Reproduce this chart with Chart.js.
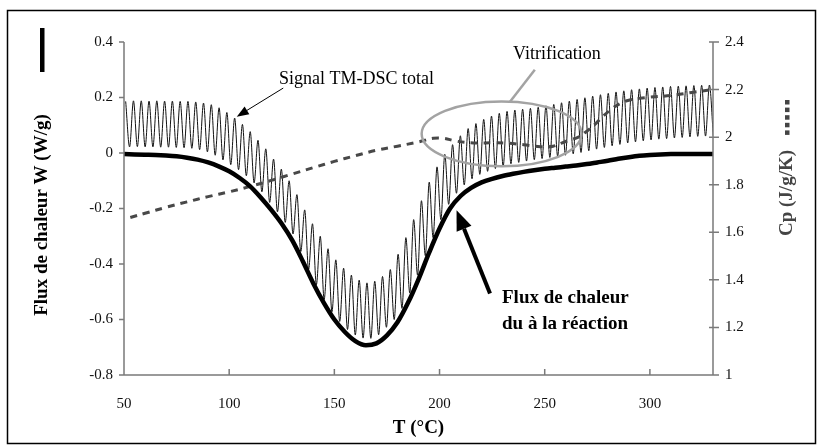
<!DOCTYPE html>
<html>
<head>
<meta charset="utf-8">
<style>
  html, body { margin: 0; padding: 0; background: #fff; }
  #wrap { width: 819px; height: 447px; }
</style>
</head>
<body>
<div id="wrap"><canvas id="dsc" width="819" height="447"></canvas></div>
<script src="https://cdn.jsdelivr.net/npm/chart.js@4.4.1/dist/chart.umd.min.js"></script>
<script>
// heat flow due to the reaction (W/g)
const reactionT = [50, 55, 60, 65, 70, 75, 80, 85, 90, 95, 100, 105, 110, 115, 120, 125, 130, 135, 140,
  145, 150, 155, 160, 165, 170, 175, 180, 185, 190, 195, 200, 205, 210, 215, 220, 225, 230, 235, 240,
  245, 250, 255, 260, 265, 270, 275, 280, 285, 290, 295, 300, 305, 310, 315, 320, 325, 330];
const reactionW = [-0.004, -0.005, -0.006, -0.007, -0.009, -0.012, -0.017, -0.024, -0.034, -0.048, -0.066,
  -0.09, -0.12, -0.16, -0.205, -0.255, -0.315, -0.39, -0.47, -0.54, -0.6, -0.645, -0.678, -0.693,
  -0.686, -0.657, -0.61, -0.54, -0.455, -0.36, -0.272, -0.2, -0.155, -0.126, -0.106, -0.093, -0.083,
  -0.075, -0.068, -0.062, -0.057, -0.053, -0.049, -0.045, -0.04, -0.034, -0.028, -0.021, -0.015,
  -0.01, -0.007, -0.005, -0.004, -0.004, -0.004, -0.004, -0.004];

// reversing heat capacity (J/g/K), right axis
const cpT = [53, 60, 70, 80, 90, 100, 110, 120, 130, 140, 150, 160, 170, 180, 190, 197, 202, 207, 212,
  218, 225, 232, 240, 248, 254, 258, 262, 266, 270, 274, 278, 282, 286, 290, 295, 300, 310, 320, 330];
const cpValues = [1.662, 1.68, 1.705, 1.728, 1.75, 1.77, 1.793, 1.818, 1.845, 1.872, 1.898, 1.922, 1.945,
  1.962, 1.98, 1.995, 1.995, 1.985, 1.978, 1.975, 1.976, 1.975, 1.968, 1.96, 1.962, 1.975, 1.988, 2.0,
  2.025, 2.055, 2.09, 2.12, 2.142, 2.155, 2.163, 2.168, 2.175, 2.188, 2.2];

// total modulated signal: one max and one min per modulation cycle
const tmStart = 50.8;
const tmPeriod = 3.7;
const tmPeaks = [0.186, 0.188, 0.188, 0.187, 0.188, 0.187, 0.187, 0.186, 0.186, 0.184,
  0.18, 0.174, 0.163, 0.146, 0.126, 0.103, 0.077, 0.046, 0.015, -0.022,
  -0.058, -0.1, -0.15, -0.205, -0.255, -0.3, -0.345, -0.385, -0.415, -0.44,
  -0.458, -0.468, -0.462, -0.445, -0.42, -0.365, -0.305, -0.24, -0.172, -0.105,
  -0.05, -0.005, 0.03, 0.062, 0.088, 0.106, 0.121, 0.133, 0.143, 0.15,
  0.155, 0.158, 0.161, 0.165, 0.17, 0.175, 0.181, 0.187, 0.193, 0.199,
  0.205, 0.21, 0.215, 0.22, 0.224, 0.228, 0.231, 0.234, 0.236, 0.238,
  0.24, 0.241, 0.242, 0.243, 0.244, 0.245];
const tmTroughs = [0.022, 0.023, 0.022, 0.022, 0.021, 0.021, 0.02, 0.019, 0.017, 0.012,
  0.004, -0.008, -0.025, -0.042, -0.06, -0.082, -0.108, -0.14, -0.178, -0.212,
  -0.25, -0.292, -0.355, -0.42, -0.475, -0.528, -0.572, -0.607, -0.636, -0.656,
  -0.667, -0.668, -0.655, -0.628, -0.6, -0.56, -0.505, -0.44, -0.37, -0.305,
  -0.24, -0.185, -0.145, -0.115, -0.093, -0.077, -0.066, -0.056, -0.048, -0.039,
  -0.034, -0.029, -0.024, -0.02, -0.016, -0.012, -0.008, -0.003, 0.002, 0.008,
  0.014, 0.02, 0.026, 0.031, 0.036, 0.04, 0.044, 0.047, 0.05, 0.052,
  0.054, 0.056, 0.058, 0.06, 0.061, 0.062];

const xTicks = [50, 100, 150, 200, 250, 300];
const wTicks = [-0.8, -0.6, -0.4, -0.2, 0, 0.2, 0.4];
const cpTicks = [1, 1.2, 1.4, 1.6, 1.8, 2, 2.2, 2.4];

const SERIF = '"Liberation Serif", "DejaVu Serif", serif';
const AXIS_GREY = '#7a7a7a';

const tmData = [];
tmPeaks.forEach((peak, i) => {
  tmData.push({ x: tmStart + i * tmPeriod, y: peak });
  tmData.push({ x: tmStart + (i + 0.5) * tmPeriod, y: tmTroughs[i] });
});

function arrow(ctx, x1, y1, x2, y2, lw, headLen, headHalf) {
  const ang = Math.atan2(y2 - y1, x2 - x1);
  const bx = x2 - headLen * Math.cos(ang);
  const by = y2 - headLen * Math.sin(ang);
  ctx.lineWidth = lw;
  ctx.beginPath();
  ctx.moveTo(x1, y1);
  ctx.lineTo(bx, by);
  ctx.stroke();
  ctx.beginPath();
  ctx.moveTo(x2, y2);
  ctx.lineTo(bx + headHalf * Math.sin(ang), by - headHalf * Math.cos(ang));
  ctx.lineTo(bx - headHalf * Math.sin(ang), by + headHalf * Math.cos(ang));
  ctx.closePath();
  ctx.fill();
}

const decorations = {
  id: 'decorations',
  afterDraw(chart) {
    const { ctx, chartArea: a } = chart;
    const { x, y, y2 } = chart.scales;
    const px = (t) => x.getPixelForValue(t);
    const py = (v) => y.getPixelForValue(v);
    ctx.save();

    // frame
    ctx.strokeStyle = '#000';
    ctx.lineWidth = 1.5;
    ctx.strokeRect(7.5, 10.5, 808, 433);

    // axis lines and tick marks
    ctx.strokeStyle = AXIS_GREY;
    ctx.lineWidth = 1.5;
    ctx.beginPath();
    ctx.moveTo(a.left, a.top); ctx.lineTo(a.left, a.bottom); ctx.lineTo(a.right, a.bottom);
    ctx.moveTo(a.right, a.top); ctx.lineTo(a.right, a.bottom);
    wTicks.forEach(v => { ctx.moveTo(a.left - 5, py(v)); ctx.lineTo(a.left, py(v)); });
    cpTicks.forEach(v => { const yy = y2.getPixelForValue(v); ctx.moveTo(a.right - 4, yy); ctx.lineTo(a.right + 6, yy); });
    xTicks.forEach(t => { ctx.moveTo(px(t), a.bottom); ctx.lineTo(px(t), a.bottom - 6); });
    ctx.stroke();

    // vitrification ellipse and its pointer
    ctx.strokeStyle = '#a3a3a3';
    ctx.lineWidth = 2.5;
    const ecx = px(229.5), ecy = py(0.069);
    ctx.beginPath();
    ctx.ellipse(ecx, ecy, px(267.5) - ecx, ecy - py(0.186), 0, 0, Math.PI * 2);
    ctx.stroke();
    ctx.beginPath();
    ctx.moveTo(px(233.5), py(0.185));
    ctx.lineTo(px(245.3), py(0.3));
    ctx.stroke();

    // annotations
    ctx.fillStyle = '#000';
    ctx.strokeStyle = '#000';
    arrow(ctx, px(125.7), py(0.234), px(103.6), py(0.131), 1, 12, 4.5);
    arrow(ctx, px(224), py(-0.506), px(208.1), py(-0.206), 4, 20, 8);

    ctx.textBaseline = 'middle';
    ctx.textAlign = 'center';
    ctx.font = `18px ${SERIF}`;
    ctx.fillText('Signal TM-DSC total', px(160.5), py(0.264));
    ctx.fillText('Vitrification', px(255.8), py(0.354));
    ctx.textAlign = 'left';
    ctx.font = `bold 19px ${SERIF}`;
    ctx.fillText('Flux de chaleur', px(229.7), py(-0.523));
    ctx.fillText('du à la réaction', px(229.7), py(-0.617));

    // axis titles with their line keys
    ctx.textAlign = 'center';
    ctx.fillText('T (°C)', (a.left + a.right) / 2, 428);

    ctx.save();
    ctx.translate(42, 215);
    ctx.rotate(-Math.PI / 2);
    ctx.fillText('Flux de chaleur W (W/g)', 0, 0);
    ctx.restore();
    ctx.fillRect(40, 28, 4.5, 44);

    ctx.fillStyle = '#444';
    ctx.save();
    ctx.translate(787, 193);
    ctx.rotate(-Math.PI / 2);
    ctx.fillText('Cp (J/g/K)', 0, 0);
    ctx.restore();
    for (let k = 0; k < 5; k++) ctx.fillRect(785, 100 + k * 7.6, 4.5, 4.5);

    ctx.restore();
  }
};

new Chart(document.getElementById('dsc'), {
  type: 'line',
  data: {
    datasets: [
      {
        label: 'Flux de chaleur du à la réaction',
        data: reactionT.map((t, i) => ({ x: t, y: reactionW[i] })),
        borderColor: '#000',
        borderWidth: 4.5,
        cubicInterpolationMode: 'monotone',
        pointRadius: 0,
        yAxisID: 'y',
        order: 0,
      },
      {
        label: 'Cp',
        data: cpT.map((t, i) => ({ x: t, y: cpValues[i] })),
        borderColor: '#484848',
        borderWidth: 3,
        borderDash: [7, 6],
        tension: 0.4,
        pointRadius: 0,
        yAxisID: 'y2',
        order: 1,
      },
      {
        label: 'Signal TM-DSC total',
        data: tmData,
        borderColor: '#111',
        borderWidth: 1,
        cubicInterpolationMode: 'monotone',
        pointRadius: 0,
        yAxisID: 'y',
        order: 2,
      },
    ],
  },
  options: {
    responsive: false,
    devicePixelRatio: 1,
    animation: false,
    events: [],
    layout: { padding: { top: 42, right: 0, bottom: 0, left: 0 } },
    plugins: { legend: { display: false }, tooltip: { enabled: false } },
    scales: {
      x: {
        type: 'linear',
        min: 50,
        max: 330,
        afterFit: (s) => { s.height = 72; },
        afterBuildTicks: (s) => { s.ticks = xTicks.map(value => ({ value })); },
        grid: { display: false, drawTicks: false },
        border: { display: false },
        ticks: { color: '#111', padding: 20, maxRotation: 0, font: { family: SERIF, size: 15 } },
      },
      y: {
        position: 'left',
        min: -0.8,
        max: 0.4,
        afterFit: (s) => { s.width = 124; },
        afterBuildTicks: (s) => { s.ticks = wTicks.map(value => ({ value })); },
        grid: { display: false, drawTicks: false },
        border: { display: false },
        ticks: {
          color: '#111', padding: 11, font: { family: SERIF, size: 15 },
          callback: (v) => (Math.abs(v) < 1e-9 ? '0' : v.toFixed(1)),
        },
      },
      y2: {
        position: 'right',
        min: 1,
        max: 2.4,
        afterFit: (s) => { s.width = 106; },
        afterBuildTicks: (s) => { s.ticks = cpTicks.map(value => ({ value })); },
        grid: { display: false, drawTicks: false },
        border: { display: false },
        ticks: {
          color: '#111', padding: 12, font: { family: SERIF, size: 15 },
          callback: (v) => String(Number(v.toFixed(1))),
        },
      },
    },
  },
  plugins: [decorations],
});
</script>
</body>
</html>
